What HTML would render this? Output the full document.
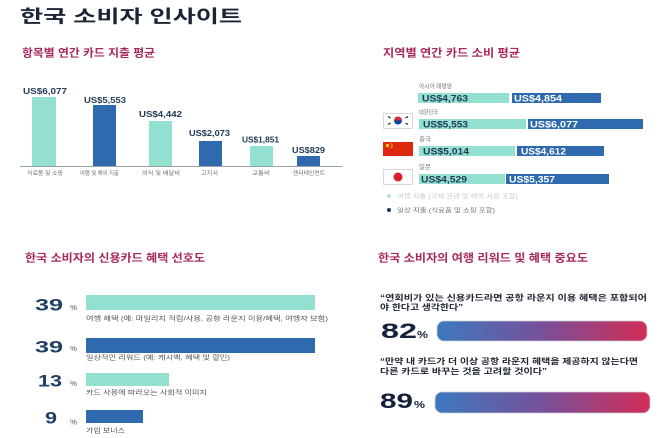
<!DOCTYPE html>
<html><head><meta charset="utf-8"><style>
html,body{margin:0;padding:0;background:#fff;}
svg{display:block;}
text{font-family:"Liberation Sans","Noto Sans CJK KR",sans-serif;}
</style></head><body>
<svg width="658" height="438" viewBox="0 0 658 438" xmlns="http://www.w3.org/2000/svg">
<defs>
<linearGradient id="g" x1="0" y1="0" x2="1" y2="0">
<stop offset="0" stop-color="#3d79bf"/>
<stop offset="0.5" stop-color="#77509a"/>
<stop offset="1" stop-color="#d22d56"/>
</linearGradient>
</defs>
<rect width="658" height="438" fill="#fff"/>
<!-- Main title -->
<text x="20" y="22.5" font-size="17.5" font-weight="bold" fill="#1b2436" textLength="222" lengthAdjust="spacingAndGlyphs">한국 소비자 인사이트</text>

<!-- Section 1 -->
<text x="22" y="56.5" font-size="11" font-weight="bold" fill="#a8285a" textLength="133" lengthAdjust="spacingAndGlyphs">항목별 연간 카드 지출 평균</text>
<g font-weight="bold" font-size="8.5" fill="#233a58">
<rect x="32" y="97" width="24" height="69" fill="#93dfd0"/>
<rect x="93" y="105" width="23" height="61" fill="#2e6aad"/>
<rect x="149" y="121" width="23" height="45" fill="#93dfd0"/>
<rect x="199" y="141" width="23" height="25" fill="#2e6aad"/>
<rect x="250" y="146" width="23" height="20" fill="#93dfd0"/>
<rect x="297" y="156" width="23" height="10" fill="#2e6aad"/>
<text x="23" y="94" textLength="44" lengthAdjust="spacingAndGlyphs">US$6,077</text>
<text x="84" y="103" textLength="42" lengthAdjust="spacingAndGlyphs">US$5,553</text>
<text x="139" y="117" textLength="43" lengthAdjust="spacingAndGlyphs">US$4,442</text>
<text x="189" y="136" textLength="41" lengthAdjust="spacingAndGlyphs">US$2,073</text>
<text x="242" y="142.5" textLength="37" lengthAdjust="spacingAndGlyphs">US$1,851</text>
<text x="292" y="153" textLength="33" lengthAdjust="spacingAndGlyphs">US$829</text>
</g>
<line x1="20" y1="166.5" x2="342" y2="166.5" stroke="#9aa3ad" stroke-width="1"/>
<g font-size="5.5" fill="#6a7076">
<text x="27" y="175" textLength="36" lengthAdjust="spacingAndGlyphs">식료품 및 쇼핑</text>
<text x="80" y="175" textLength="39" lengthAdjust="spacingAndGlyphs">여행 및 해외 지출</text>
<text x="142" y="175" textLength="38" lengthAdjust="spacingAndGlyphs">외식 및 배달비</text>
<text x="201" y="175" textLength="17" lengthAdjust="spacingAndGlyphs">고지서</text>
<text x="252" y="175" textLength="18" lengthAdjust="spacingAndGlyphs">교통비</text>
<text x="293" y="175" textLength="32" lengthAdjust="spacingAndGlyphs">엔터테인먼트</text>
</g>

<!-- Section 2 -->
<text x="383" y="56.5" font-size="11" font-weight="bold" fill="#a8285a" textLength="137" lengthAdjust="spacingAndGlyphs">지역별 연간 카드 소비 평균</text>
<g font-size="6" fill="#6a7076">
<text x="419" y="88.5" textLength="33" lengthAdjust="spacingAndGlyphs">아시아 태평양</text>
<text x="419" y="114.5" textLength="19" lengthAdjust="spacingAndGlyphs">대한민국</text>
<text x="419" y="141.5" textLength="12" lengthAdjust="spacingAndGlyphs">중국</text>
<text x="419" y="169" textLength="12" lengthAdjust="spacingAndGlyphs">일본</text>
</g>
<rect x="418" y="93" width="91" height="10" fill="#93dfd0"/>
<rect x="512" y="93" width="89" height="10" fill="#2e6aad"/>
<rect x="419" y="119" width="107" height="10" fill="#93dfd0"/>
<rect x="528" y="119" width="115" height="10" fill="#2e6aad"/>
<rect x="419" y="146" width="96" height="10" fill="#93dfd0"/>
<rect x="517" y="146" width="87" height="10" fill="#2e6aad"/>
<rect x="419" y="174" width="86" height="10" fill="#93dfd0"/>
<rect x="506" y="174" width="103" height="10" fill="#2e6aad"/>
<g font-size="9" font-weight="bold">
<text x="422" y="101.5" fill="#1f3a58" textLength="46" lengthAdjust="spacingAndGlyphs">US$4,763</text>
<text x="514" y="101.5" fill="#fff" textLength="48" lengthAdjust="spacingAndGlyphs">US$4,854</text>
<text x="423" y="127.5" fill="#1f3a58" textLength="45" lengthAdjust="spacingAndGlyphs">US$5,553</text>
<text x="530" y="127.5" fill="#fff" textLength="48" lengthAdjust="spacingAndGlyphs">US$6,077</text>
<text x="423" y="154.5" fill="#1f3a58" textLength="46" lengthAdjust="spacingAndGlyphs">US$5,014</text>
<text x="521" y="154.5" fill="#fff" textLength="45" lengthAdjust="spacingAndGlyphs">US$4,612</text>
<text x="421" y="182.5" fill="#1f3a58" textLength="46" lengthAdjust="spacingAndGlyphs">US$4,529</text>
<text x="509" y="182.5" fill="#fff" textLength="46" lengthAdjust="spacingAndGlyphs">US$5,357</text>
</g>
<!-- Flags -->
<rect x="383.5" y="113.5" width="29" height="15" fill="#fff" stroke="#d8d8d8"/>
<path d="M394,120.5 a4,4 0 0 1 8,0 z" fill="#cd2e3a"/>
<path d="M394,120.5 a4,4 0 0 0 8,0 z" fill="#0047a0"/>
<g stroke="#222" stroke-width="1.2">
<line x1="388" y1="116.5" x2="390.5" y2="118"/>
<line x1="405.5" y1="118" x2="408" y2="116.5"/>
<line x1="388" y1="124.5" x2="390.5" y2="123"/>
<line x1="405.5" y1="123" x2="408" y2="124.5"/>
</g>
<rect x="383" y="142" width="30" height="14" fill="#de2910"/>
<g fill="#ffde00">
<circle cx="387.5" cy="145.5" r="1.6"/>
<circle cx="391" cy="143.8" r="0.6"/>
<circle cx="392" cy="145" r="0.6"/>
<circle cx="392" cy="146.6" r="0.6"/>
<circle cx="391" cy="147.8" r="0.6"/>
</g>
<rect x="383.5" y="169.5" width="29" height="15" fill="#fff" stroke="#d8d8d8"/>
<circle cx="398" cy="177" r="4.5" fill="#d81e2a"/>
<!-- Legend -->
<circle cx="389" cy="196" r="2" fill="#b8e2da"/>
<text x="397" y="198.5" font-size="6" fill="#c3c9cd" textLength="121" lengthAdjust="spacingAndGlyphs">여행 지출 (국제 관련 및 해외 사용 포함)</text>
<circle cx="389" cy="210" r="2" fill="#1e3a5f"/>
<text x="397" y="212.5" font-size="6" fill="#6a7076" textLength="98" lengthAdjust="spacingAndGlyphs">일상 지출 (식료품 및 쇼핑 포함)</text>

<!-- Section 3 -->
<text x="25" y="261.5" font-size="11" font-weight="bold" fill="#a8285a" textLength="180" lengthAdjust="spacingAndGlyphs">한국 소비자의 신용카드 혜택 선호도</text>
<rect x="86" y="295" width="229" height="15" fill="#93dfd0"/>
<rect x="86" y="338" width="229" height="15" fill="#2e6aad"/>
<rect x="86" y="373" width="83" height="13" fill="#93dfd0"/>
<rect x="86" y="410" width="57" height="13" fill="#2e6aad"/>
<g font-size="17" font-weight="bold" fill="#1f3f66">
<text x="35" y="310.5" textLength="28" lengthAdjust="spacingAndGlyphs">39</text>
<text x="35" y="352.5" textLength="28" lengthAdjust="spacingAndGlyphs">39</text>
<text x="38" y="386.5" textLength="24" lengthAdjust="spacingAndGlyphs">13</text>
<text x="45" y="423.5" textLength="12" lengthAdjust="spacingAndGlyphs">9</text>
</g>
<g font-size="7" fill="#4a5a70">
<text x="70" y="310" textLength="7" lengthAdjust="spacingAndGlyphs">%</text>
<text x="70" y="351" textLength="7" lengthAdjust="spacingAndGlyphs">%</text>
<text x="70" y="386" textLength="7" lengthAdjust="spacingAndGlyphs">%</text>
<text x="70" y="424.5" textLength="7" lengthAdjust="spacingAndGlyphs">%</text>
</g>
<g font-size="6.5" fill="#4c535b">
<text x="86" y="320.5" textLength="242" lengthAdjust="spacingAndGlyphs">여행 혜택 (예: 마일리지 적립/사용, 공항 라운지 이용/혜택, 여행자 보험)</text>
<text x="86" y="359.5" textLength="144" lengthAdjust="spacingAndGlyphs">일상적인 리워드 (예: 캐시백, 혜택 및 할인)</text>
<text x="86" y="394.5" textLength="121" lengthAdjust="spacingAndGlyphs">카드 사용에 따라오는 사회적 이미지</text>
<text x="86" y="432.5" textLength="39" lengthAdjust="spacingAndGlyphs">가입 보너스</text>
</g>

<!-- Section 4 -->
<text x="378" y="261.5" font-size="11" font-weight="bold" fill="#a8285a" textLength="210" lengthAdjust="spacingAndGlyphs">한국 소비자의 여행 리워드 및 혜택 중요도</text>
<g font-size="8" font-weight="bold" fill="#1e2430">
<text x="380" y="300.5" textLength="267" lengthAdjust="spacingAndGlyphs">“연회비가 있는 신용카드라면 공항 라운지 이용 혜택은 포함되어</text>
<text x="380" y="310" textLength="83" lengthAdjust="spacingAndGlyphs">야 한다고 생각한다”</text>
<text x="380" y="364" textLength="258" lengthAdjust="spacingAndGlyphs">“만약 내 카드가 더 이상 공항 라운지 혜택을 제공하지 않는다면</text>
<text x="380" y="374" textLength="167" lengthAdjust="spacingAndGlyphs">다른 카드로 바꾸는 것을 고려할 것이다”</text>
</g>
<g font-weight="bold" fill="#15213a">
<text x="381" y="338" font-size="21" textLength="36" lengthAdjust="spacingAndGlyphs">82</text>
<text x="417" y="338" font-size="10" textLength="11" lengthAdjust="spacingAndGlyphs">%</text>
<text x="380" y="408" font-size="21" textLength="33" lengthAdjust="spacingAndGlyphs">89</text>
<text x="414" y="408" font-size="10" textLength="11" lengthAdjust="spacingAndGlyphs">%</text>
</g>
<rect x="437" y="321" width="210" height="20" rx="7" fill="url(#g)" stroke="#c9ccd4" stroke-width="0.8"/>
<rect x="435" y="392" width="215" height="21" rx="7" fill="url(#g)" stroke="#c9ccd4" stroke-width="0.8"/>
</svg>
</body></html>
